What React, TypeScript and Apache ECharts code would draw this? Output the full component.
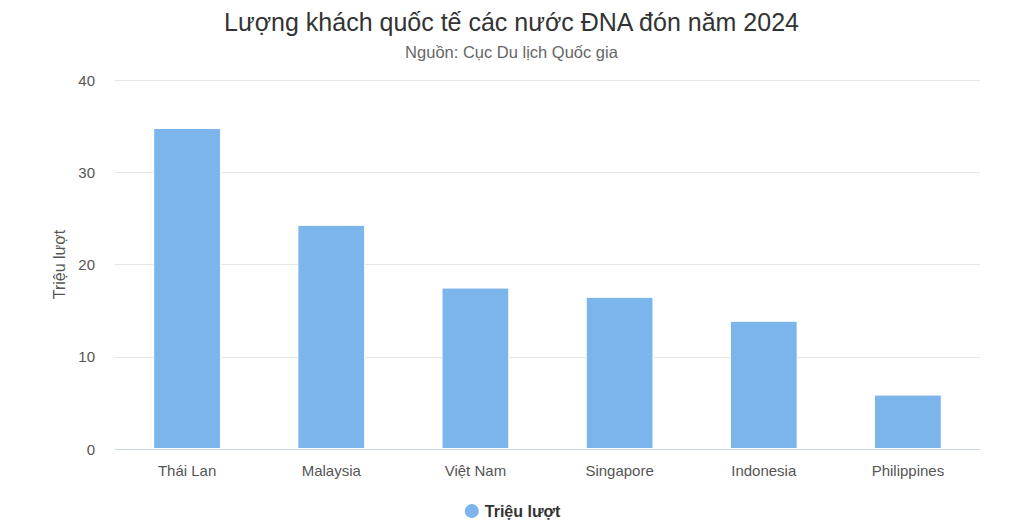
import React, { useEffect, useRef } from "react";
import * as echarts from "echarts";

const categories = ["Thái Lan", "Malaysia", "Việt Nam", "Singapore", "Indonesia", "Philippines"];
const values = [34.8, 24.3, 17.5, 16.5, 13.9, 5.9];
const seriesName = "Triệu lượt";
const titleText = "Lượng khách quốc tế các nước ĐNA đón năm 2024";
const subtitleText = "Nguồn: Cục Du lịch Quốc gia";

export default function App() {
  const ref = useRef<HTMLDivElement>(null);
  useEffect(() => {
    document.body.style.margin = "0";
    if (!ref.current) return;
    const chart = echarts.init(ref.current, null, { renderer: "svg" });
    const font = "'Liberation Sans', Arial, sans-serif";
    chart.setOption({
      animation: false,
      backgroundColor: "#ffffff",
      title: {
        text: titleText,
        subtext: subtitleText,
        left: "center",
        top: 4,
        itemGap: 9,
        textStyle: { fontFamily: font, fontSize: 25, fontWeight: "normal", color: "#333333" },
        subtextStyle: { fontFamily: font, fontSize: 16.5, color: "#666666" },
      },
      legend: {
        bottom: 4,
        left: "center",
        icon: "circle",
        itemWidth: 16,
        itemHeight: 16,
        textStyle: { fontFamily: font, fontSize: 16, fontWeight: "bold", color: "#333333" },
        data: [seriesName],
      },
      grid: { left: 115, right: 43, top: 80, bottom: 80 },
      xAxis: {
        type: "category",
        data: categories,
        axisLine: { lineStyle: { color: "#ccd6eb" } },
        axisTick: { show: false },
        axisLabel: { fontFamily: font, fontSize: 15, color: "#555555", margin: 14 },
      },
      yAxis: {
        type: "value",
        min: 0,
        max: 40,
        interval: 10,
        name: seriesName,
        nameLocation: "middle",
        nameGap: 48,
        nameTextStyle: { fontFamily: font, fontSize: 16, color: "#555555" },
        axisLabel: { fontFamily: font, fontSize: 15, color: "#555555", margin: 20 },
        splitLine: { lineStyle: { color: "#e6e6e6" } },
        axisLine: { show: false },
      },
      series: [
        {
          name: seriesName,
          type: "bar",
          data: values,
          barWidth: "47%",
          itemStyle: { color: "#7cb5ec", borderColor: "#ffffff", borderWidth: 1 },
        },
      ],
    });
    return () => chart.dispose();
  }, []);
  return <div ref={ref} style={{ width: 1023, height: 529 }} />;
}
